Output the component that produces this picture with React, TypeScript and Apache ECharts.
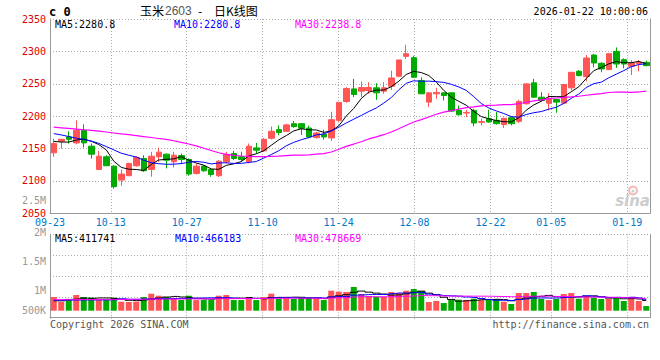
import React, { useEffect, useRef } from 'react';
import * as echarts from 'echarts';

const dates = [
  '09-23','09-24','09-25','09-26','09-29','09-30','10-09','10-10','10-13','10-14',
  '10-15','10-16','10-17','10-20','10-21','10-22','10-23','10-24','10-27','10-28',
  '10-29','10-30','10-31','11-03','11-04','11-05','11-06','11-07','11-10','11-11',
  '11-12','11-13','11-14','11-17','11-18','11-19','11-20','11-21','11-24','11-25',
  '11-26','11-27','11-28','12-01','12-02','12-03','12-04','12-05','12-08','12-09',
  '12-10','12-11','12-12','12-15','12-16','12-17','12-18','12-19','12-22','12-23',
  '12-24','12-25','12-26','12-29','12-30','12-31','01-05','01-06','01-07','01-08',
  '01-09','01-12','01-13','01-14','01-15','01-16','01-19','01-20','01-21','01-22'
];

const opens = [
  2143.3,2161.2,2167.9,2158.7,2178.1,2153.6,2117.7,2137.2,2122.8,2101.3,
  2108.0,2123.4,2134.6,2117.7,2137.2,2141.3,2129.5,2139.2,2133.1,2111.6,
  2122.8,2117.7,2108.0,2129.5,2142.3,2137.2,2130.0,2151.0,2146.4,2165.8,
  2179.2,2176.6,2188.4,2188.4,2181.7,2166.9,2172.0,2166.4,2193.5,2222.7,
  2242.1,2238.6,2239.6,2243.7,2238.6,2246.2,2261.6,2292.3,2290.3,2254.9,
  2221.7,2234.5,2236.0,2236.0,2208.9,2204.8,2208.9,2190.4,2196.0,2193.5,
  2186.9,2197.6,2192.0,2219.1,2251.4,2229.3,2220.1,2225.8,2220.1,2243.7,
  2269.3,2261.1,2294.4,2281.6,2271.8,2300.0,2287.2,2277.0,2281.1,2283.1
];
const closes = [
  2157.7,2164.3,2164.3,2178.1,2158.7,2141.3,2138.2,2123.4,2091.1,2110.6,
  2127.0,2136.2,2115.7,2138.2,2144.4,2132.1,2139.7,2133.1,2110.6,2122.8,
  2115.7,2110.0,2130.5,2141.0,2134.6,2133.1,2153.6,2147.4,2164.3,2176.6,
  2174.8,2186.5,2183.8,2181.2,2167.9,2174.0,2167.9,2194.5,2221.2,2242.7,
  2233.4,2244.2,2244.2,2236.0,2243.7,2259.0,2286.7,2296.4,2260.1,2234.5,
  2236.0,2236.5,2231.9,2207.8,2202.2,2205.8,2189.4,2191.5,2191.0,2188.4,
  2196.6,2188.4,2222.7,2249.8,2229.3,2224.2,2225.8,2221.7,2248.8,2267.7,
  2262.6,2289.8,2282.1,2272.9,2296.4,2280.5,2280.5,2282.1,2283.1,2278.0
];
const lows = [
  2137.2,2150.0,2157.7,2156.6,2151.5,2134.6,2117.0,2122.8,2088.0,2092.6,
  2107.5,2121.8,2114.1,2106.5,2129.5,2119.3,2120.8,2125.9,2108.0,2110.0,
  2114.1,2106.5,2106.0,2127.0,2132.0,2129.5,2127.0,2142.3,2144.9,2163.8,
  2170.5,2175.6,2182.2,2171.0,2165.9,2165.3,2163.8,2161.8,2190.4,2220.6,
  2229.3,2229.3,2234.5,2225.2,2234.5,2240.6,2260.1,2288.2,2259.0,2234.0,
  2214.0,2226.7,2224.2,2206.3,2201.2,2198.6,2184.3,2185.8,2189.9,2186.9,
  2181.7,2185.8,2189.4,2218.1,2228.3,2222.7,2208.9,2205.3,2219.6,2239.6,
  2261.6,2253.9,2275.4,2267.7,2271.3,2274.4,2273.9,2263.6,2269.3,2277.0
];
const highs = [
  2165.3,2164.8,2176.6,2193.5,2187.3,2157.7,2146.4,2139.7,2124.4,2117.7,
  2128.0,2138.2,2139.7,2144.9,2151.5,2142.3,2144.9,2142.3,2134.6,2127.0,
  2124.4,2119.8,2132.0,2144.9,2146.4,2144.9,2157.7,2158.7,2166.5,2184.0,
  2185.8,2188.4,2192.5,2189.4,2185.3,2175.6,2179.2,2206.8,2221.7,2244.7,
  2257.5,2253.4,2252.4,2250.8,2252.4,2270.3,2287.2,2310.2,2293.3,2260.0,
  2237.0,2243.7,2236.5,2236.5,2216.5,2209.9,2211.4,2196.0,2209.9,2206.3,
  2197.6,2199.6,2225.2,2250.8,2257.5,2237.0,2235.5,2226.3,2249.8,2268.3,
  2271.3,2294.4,2295.9,2283.1,2296.9,2306.1,2289.2,2286.7,2286.7,2285.7
];
const volumes = [
  551000,363000,430000,632000,551000,525000,430000,430000,525000,363000,
  350000,363000,551000,686000,605000,551000,484000,430000,605000,430000,
  430000,430000,605000,632000,430000,430000,551000,430000,551000,686000,
  471000,551000,471000,525000,525000,471000,430000,807000,767000,753000,
  955000,673000,592000,565000,565000,753000,713000,807000,874000,794000,
  350000,390000,309000,430000,444000,430000,484000,430000,471000,471000,
  363000,269000,713000,713000,753000,471000,430000,471000,673000,713000,
  484000,592000,525000,471000,471000,551000,390000,551000,390000,188000
];

// moving-average values for the days before enough history is shown
const ma5Head = [2161, 2160, 2160, 2163];
const ma10Head = [2173, 2171, 2168.5, 2166, 2164, 2161.5, 2158, 2153, 2148];
const ma30Head = [
  2183, 2182, 2181, 2180, 2179, 2178, 2177, 2175.5, 2174, 2172.5,
  2171.5, 2170, 2168.5, 2167, 2165.5, 2164, 2162, 2159.5, 2157, 2154,
  2150.5, 2147, 2143.5, 2141, 2139.5, 2138.5, 2138, 2137.5, 2137.5
];
const volMa5Head = [398000, 402000, 455000, 468000];
const volMa10Head = [425000, 422000, 428000, 431000, 433000, 436000, 434000, 437000, 441000];
const volMa30Head = [
  446000, 444000, 447000, 449000, 447000, 451000, 453000, 452000, 455000, 457000,
  456000, 458000, 462000, 466000, 468000, 470000, 469000, 471000, 475000, 474000,
  476000, 478000, 483000, 487000, 486000, 488000, 491000, 490000, 494000
];

const labelDates = ['09-23', '10-13', '10-27', '11-10', '11-24', '12-08', '12-22', '01-05', '01-19'];
const volAxisLabels = ['2.5M', '2M', '1.5M', '1M', '500K'];
const volAxisLabelY = [200.7, 232.5, 261, 290.7, 310];

const titleMain = '玉米';
const titleCode = '2603';
const titleDash = '-';
const titleTail = '日K线图';
const timeStamp = '2026-01-22 10:00:06';
const priceLegend = ['MA5:2280.8', 'MA10:2280.8', 'MA30:2238.8'];
const volLegend = ['MA5:411741', 'MA10:466183', 'MA30:478669'];

const UP = '#ff5555';
const DOWN = '#00aa00';
const AXIS_C = '#999999';
const GRID_C = '#aaaaaa';
const MONO = "'DejaVu Sans Mono', monospace";
const CJK = "'Noto Sans CJK SC', sans-serif";

function movingAvg(values: number[], n: number, head: number[]) {
  return values.map((_, i) => {
    if (i < n - 1) return head[i];
    let s = 0;
    for (let k = i - n + 1; k <= i; k++) s += values[k];
    return +(s / n).toFixed(2);
  });
}

const isLabel = (_i: number, v: string) => labelDates.indexOf(v) >= 0;

function txt(x: number, y: number, text: string, fill: string, align = 'left', font = `10px ${MONO}`) {
  return {
    type: 'text',
    x,
    y,
    silent: true,
    z: 100,
    style: { text, fill, font, align, textAlign: align, verticalAlign: 'middle', textVerticalAlign: 'middle' },
  };
}

export default function App() {
  const ref = useRef<HTMLDivElement>(null);

  useEffect(() => {
    if (!ref.current) return;
    const chart = echarts.init(ref.current, undefined, { renderer: 'svg' });

    const candleData = dates.map((_, i) => [opens[i], closes[i], lows[i], highs[i]]);
    const volData = volumes.map((v, i) => ({
      value: v,
      itemStyle: { color: closes[i] >= opens[i] ? UP : DOWN },
    }));
    const ma5 = movingAvg(closes, 5, ma5Head);
    const ma10 = movingAvg(closes, 10, ma10Head);
    const ma30 = movingAvg(closes, 30, ma30Head);
    const vma5 = movingAvg(volumes, 5, volMa5Head);
    const vma10 = movingAvg(volumes, 10, volMa10Head);
    const vma30 = movingAvg(volumes, 30, volMa30Head);

    const dotted = { color: GRID_C, type: [1, 2] as any, width: 1 };
    const solid = { color: AXIS_C, width: 1 };

    const graphic: any[] = [
      txt(49, 12, 'c 0', '#000', 'left', `bold 12px ${MONO}`),
      txt(140, 10.5, titleMain, '#000', 'left', `12px ${CJK}`),
      txt(165, 10.5, titleCode, '#555', 'left', "12px 'Liberation Sans', sans-serif"),
      txt(200, 10.5, titleDash, '#000', 'center', `12px ${CJK}`),
      txt(214, 10.5, titleTail, '#000', 'left', `12px ${CJK}`),
      txt(648, 11.5, timeStamp, '#000', 'right'),
      txt(55, 24, priceLegend[0], '#000'),
      txt(174, 24, priceLegend[1], '#0000ff'),
      txt(295, 24, priceLegend[2], '#ff00ff'),
      txt(55, 238.3, volLegend[0], '#000'),
      txt(175, 238.3, volLegend[1], '#0000ff'),
      txt(295, 238.3, volLegend[2], '#ff00ff'),
      txt(50, 324, 'Copyright 2026 SINA.COM', '#555'),
      txt(649, 324, 'http://finance.sina.com.cn', '#555', 'right'),
      {
        type: 'circle',
        silent: true,
        z: 1,
        shape: { cx: 633, cy: 190.5, r: 4 },
        style: { fill: 'none', stroke: '#f3b9b9', lineWidth: 2 },
      },
      {
        type: 'circle',
        silent: true,
        z: 1,
        shape: { cx: 633, cy: 191, r: 1.5 },
        style: { fill: '#cfcfcf' },
      },
      {
        type: 'text',
        x: 650,
        y: 200.5,
        silent: true,
        z: 1,
        style: {
          text: 'sina',
          fill: '#cdcdcd',
          font: "italic bold 15px 'DejaVu Sans', sans-serif",
          align: 'right',
          textAlign: 'right',
          verticalAlign: 'middle',
          textVerticalAlign: 'middle',
        },
      },
    ];
    volAxisLabels.forEach((t, i) => graphic.push(txt(46, volAxisLabelY[i], t, '#999', 'right')));

    const option: any = {
      animation: false,
      backgroundColor: '#ffffff',
      grid: [
        { left: 50, top: 19, width: 600, height: 194.3 },
        { left: 50, top: 234.3, width: 600, height: 76.4 },
        { left: 50, top: 234.3, width: 600, height: 83.4 },
      ],
      xAxis: [
        {
          type: 'category', gridIndex: 0, data: dates, boundaryGap: true, position: 'bottom',
          axisLine: { show: false }, axisTick: { show: false }, axisLabel: { show: false }, splitLine: { show: false },
        },
        {
          type: 'category', gridIndex: 0, data: dates, boundaryGap: false, position: 'bottom',
          axisLine: { show: true, onZero: false, lineStyle: solid },
          axisTick: { show: false },
          axisLabel: { show: true, interval: isLabel, color: '#0078c8', fontFamily: MONO, fontSize: 10, margin: 4 },
          splitLine: { show: true, interval: isLabel, lineStyle: dotted },
        },
        {
          type: 'category', gridIndex: 1, data: dates, boundaryGap: true, position: 'bottom', show: false,
        },
        {
          type: 'category', gridIndex: 2, data: dates, boundaryGap: false, position: 'bottom',
          axisLine: { show: true, onZero: false, lineStyle: solid },
          axisTick: { show: true, interval: isLabel, length: 3, lineStyle: dotted },
          axisLabel: { show: false },
          splitLine: { show: true, interval: isLabel, lineStyle: dotted },
        },
      ],
      yAxis: [
        {
          type: 'value', gridIndex: 0, position: 'left', min: 2050, max: 2350, interval: 50,
          axisLine: { show: true, lineStyle: solid }, axisTick: { show: false },
          axisLabel: {
            color: '#e00000', fontFamily: MONO, fontSize: 10, margin: 4, padding: [0, 0, 3, 0],
            formatter: (v: number) => String(v),
          },
          splitLine: { show: true, lineStyle: dotted },
        },
        {
          type: 'value', gridIndex: 0, position: 'right', min: 2050, max: 2350,
          axisLine: { show: true, lineStyle: solid }, axisTick: { show: false },
          axisLabel: { show: false }, splitLine: { show: false },
        },
        {
          type: 'value', gridIndex: 1, min: 0, max: 3080000, show: false, splitLine: { show: false },
        },
        {
          type: 'value', gridIndex: 2, position: 'left', min: 0, max: 4, interval: 1,
          axisLine: { show: true, lineStyle: solid }, axisTick: { show: false },
          axisLabel: { show: false }, splitLine: { show: true, lineStyle: dotted },
        },
        {
          type: 'value', gridIndex: 2, position: 'right', min: 0, max: 4, interval: 1,
          axisLine: { show: true, lineStyle: solid }, axisTick: { show: false },
          axisLabel: { show: false }, splitLine: { show: false },
        },
      ],
      series: [
        {
          type: 'candlestick', xAxisIndex: 0, yAxisIndex: 0, data: candleData, barWidth: 6, silent: true,
          itemStyle: { color: UP, color0: DOWN, borderColor: UP, borderColor0: DOWN, borderWidth: 1 },
        },
        { type: 'line', xAxisIndex: 0, yAxisIndex: 0, data: ma5, symbol: 'none', silent: true, lineStyle: { color: '#000000', width: 1 } },
        { type: 'line', xAxisIndex: 0, yAxisIndex: 0, data: ma10, symbol: 'none', silent: true, lineStyle: { color: '#0000ff', width: 1 } },
        { type: 'line', xAxisIndex: 0, yAxisIndex: 0, data: ma30, symbol: 'none', silent: true, lineStyle: { color: '#ff00ff', width: 1.2 } },
        { type: 'bar', xAxisIndex: 2, yAxisIndex: 2, data: volData, barWidth: 6, silent: true },
        { type: 'line', xAxisIndex: 2, yAxisIndex: 2, data: vma5, step: 'middle', symbol: 'none', silent: true, lineStyle: { color: '#000000', width: 1 } },
        { type: 'line', xAxisIndex: 2, yAxisIndex: 2, data: vma10, step: 'middle', symbol: 'none', silent: true, lineStyle: { color: '#0000ff', width: 1 } },
        { type: 'line', xAxisIndex: 2, yAxisIndex: 2, data: vma30, step: 'middle', symbol: 'none', silent: true, lineStyle: { color: '#ff00ff', width: 1 } },
      ],
      graphic,
    };

    chart.setOption(option);
    return () => chart.dispose();
  }, []);

  return (
    <div
      ref={ref}
      style={{ position: 'absolute', left: 0, top: 0, width: 660, height: 360, background: '#fff' }}
    />
  );
}
